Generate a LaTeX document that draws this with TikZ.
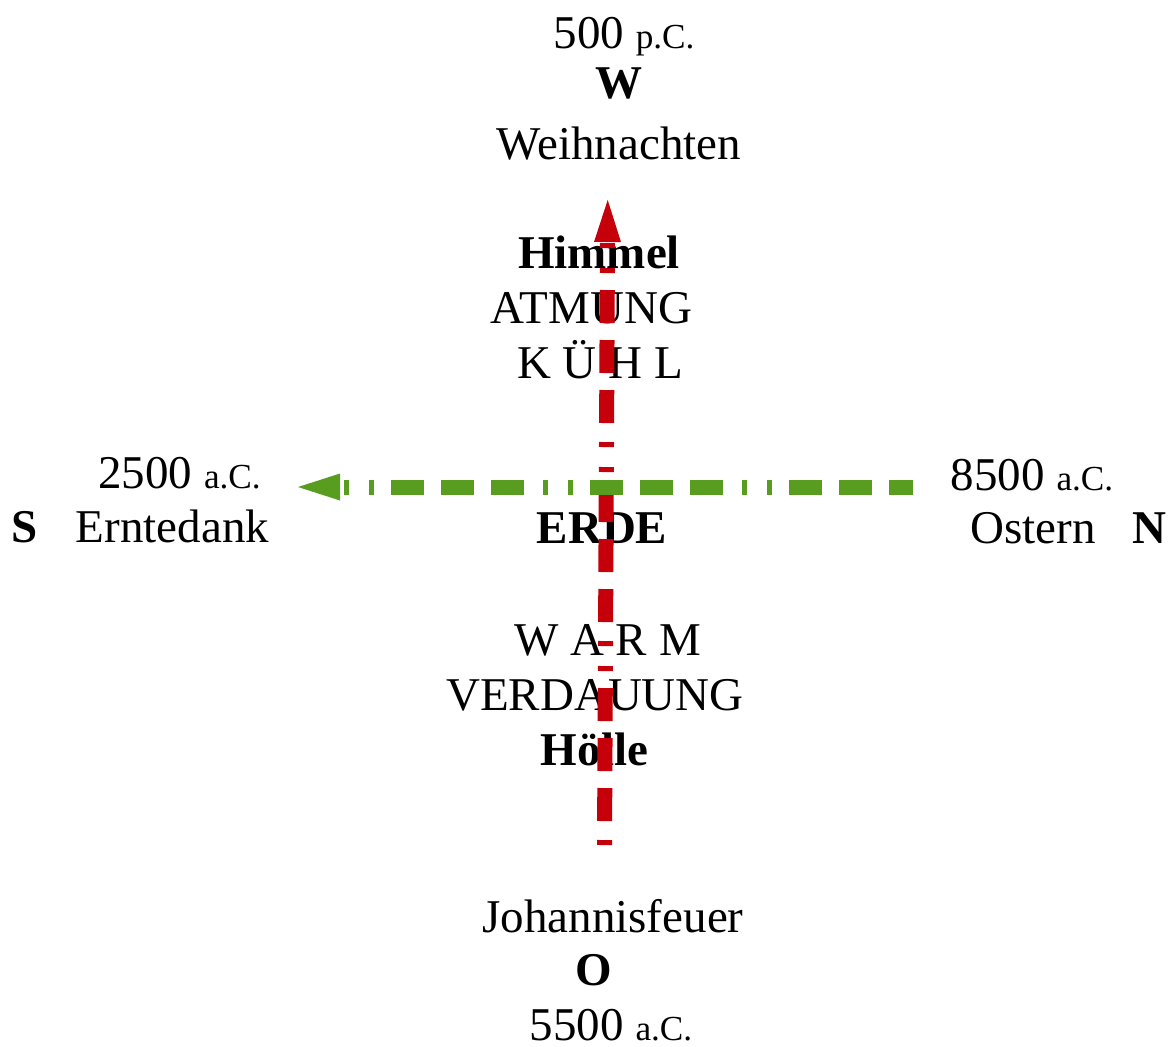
\documentclass[tikz,border=0pt]{standalone}
\usepackage{fontspec}
\setmainfont{Liberation Serif}
\usepackage{xcolor}
\usetikzlibrary{arrows.meta}
\definecolor{myred}{RGB}{197, 0, 11}
\definecolor{mygreen}{RGB}{88, 157, 31}
\newcommand{\sm}[1]{{\fontsize{17.6}{20}\selectfont #1}}

\begin{document}
\begin{tikzpicture}[x=0.5pt, y=-0.5pt,
  lbl/.style={anchor=base, inner sep=0pt, font=\fontsize{23.5}{28}\selectfont},
  bld/.style={lbl, font=\fontsize{23.5}{28}\selectfont\bfseries},
  axisline/.style={line width=7.5pt,
    dash pattern=on 16.5pt off 8.5pt on 16.5pt off 8.5pt on 16.5pt off 8.5pt on 2.5pt off 10pt on 2.5pt off 9.5pt,
    -{Triangle[length=21pt, width=13.5pt, line width=0pt]}}]
  \useasboundingbox (0,0) rectangle (1170,1046);

%top:
  \node[lbl] (pc500) at (624,48) {500 \sm{p.C.}};
  \node[bld] (west) at (619,98) {W};
  \node[lbl] (weihn) at (619,159) {Weihnachten};
  \node[bld] (himmel) at (599,268) {Himmel};
  \node[lbl] (atmung) at (591.5,323) {ATMUNG};
  \node[lbl] (kuehl) at (600,378) {K Ü H L};

%left and right:
  \node[lbl] (ac2500) at (179.5,488) {2500 \sm{a.C.}};
  \node[bld] (south) at (25,542) {S};
  \node[lbl] (ernte) at (172.5,542) {Erntedank};
  \node[lbl] (ac8500) at (1032,490) {8500 \sm{a.C.}};
  \node[lbl] (ostern) at (1033,543) {Ostern};
  \node[bld] (north) at (1149.5,543) {N};
  \node[bld] (erde) at (602,543) {ERDE};

%bottom:
  \node[lbl] (warm) at (607.5,655) {W A R M};
  \node[lbl] (verd) at (595,710) {VERDAUUNG};
  \node[bld] (hoelle) at (594.5,765) {Hölle};
  \node[lbl] (johann) at (613,932) {Johannisfeuer};
  \node[bld] (east) at (593.5,985) {O};
  \node[lbl] (ac5500) at (611,1040) {5500 \sm{a.C.}};

%arrows:
  \coordinate (redS) at (604.5,845);
  \coordinate (redE) at (607.7,200);
  \coordinate (greenS) at (913,487);
  \coordinate (greenE) at (298,487);
  \draw[axisline, dash phase=87.5pt, color=myred] (redS) -- (redE);
  \draw[axisline, dash phase=4.5pt, color=mygreen] (greenS) -- (greenE);
\end{tikzpicture}
\end{document}
